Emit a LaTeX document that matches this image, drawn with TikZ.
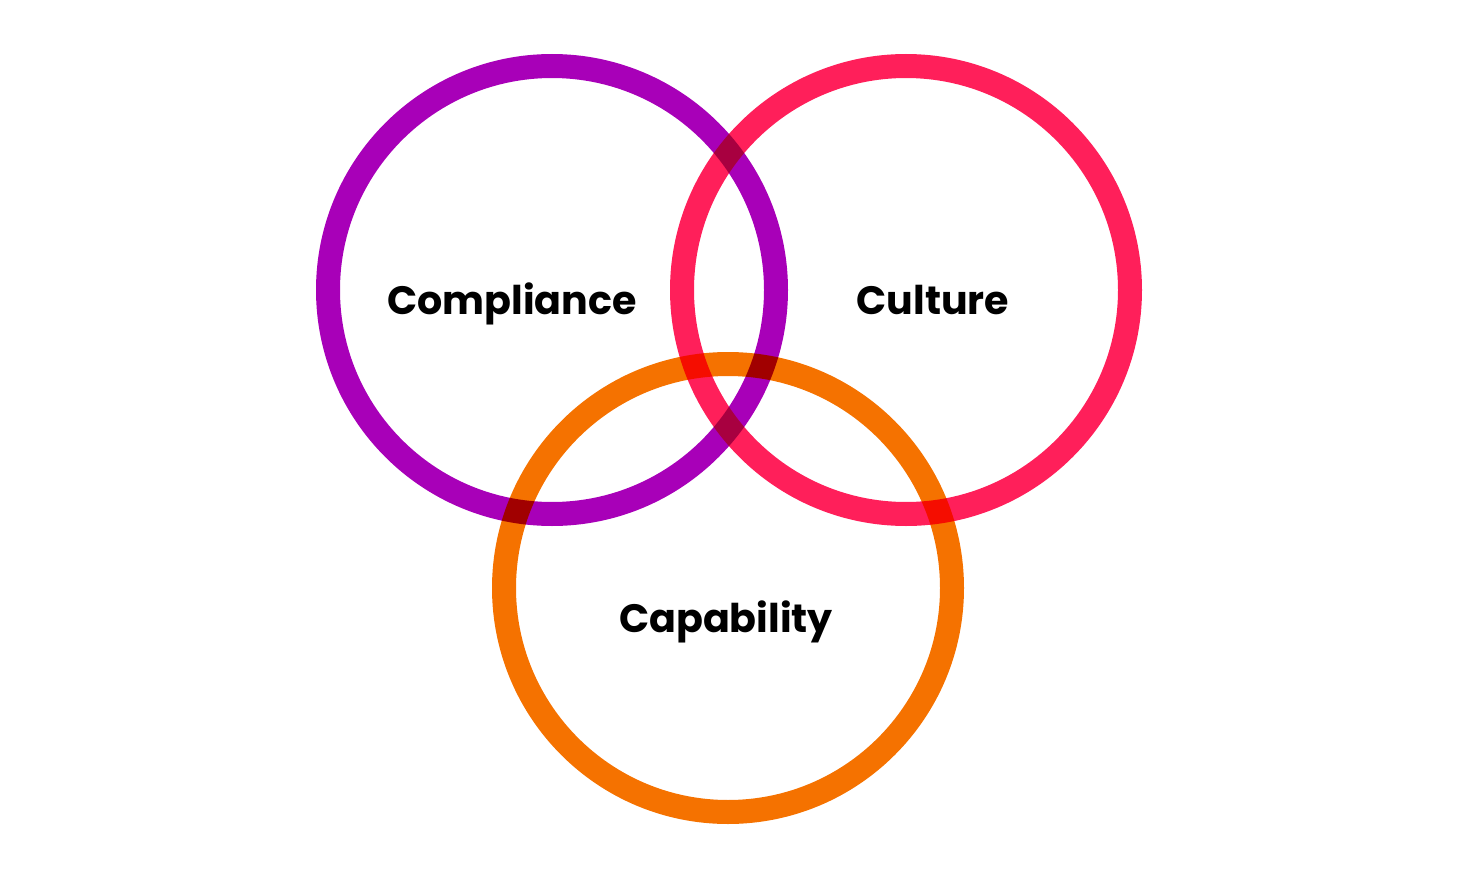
\documentclass[tikz,border=0pt]{standalone}
\usepackage{fontspec}
\setmainfont{Poppins}[BoldFont={* Bold}]
\usetikzlibrary{positioning}

\definecolor{ringPurple}{RGB}{168,0,184}
\definecolor{ringPink}{RGB}{255,31,90}
\definecolor{ringOrange}{RGB}{245,114,0}

\tikzset{every picture/.style={line width=0.75pt}}
\tikzset{
  ring/.style={line width=24pt},
  ringlabel/.style={font=\bfseries\fontsize{39.6}{44}\selectfont, anchor=base, inner sep=0pt}
}

\begin{document}
\begin{tikzpicture}[x=1pt,y=-1pt]
\useasboundingbox (0,0) rectangle (1460,872);
% centres of the three rings
\coordinate (compliance) at (552,290);
\coordinate (culture) at (906,290);
\coordinate (capability) at (728,588);
% rings, multiplied where they overlap
\begin{scope}[blend group=multiply]
  \draw [ring, draw=ringPurple] (compliance) circle [radius=224];
  \draw [ring, draw=ringPink] (culture) circle [radius=224];
  \draw [ring, draw=ringOrange] (capability) circle [radius=224];
\end{scope}
% labels
\node [ringlabel] (complianceLabel) at (512,314) {Compliance};
\node [ringlabel] (cultureLabel) at (933,314) {Culture};
\node [ringlabel] (capabilityLabel) at (726,632) {Capability};
\end{tikzpicture}
\end{document}
